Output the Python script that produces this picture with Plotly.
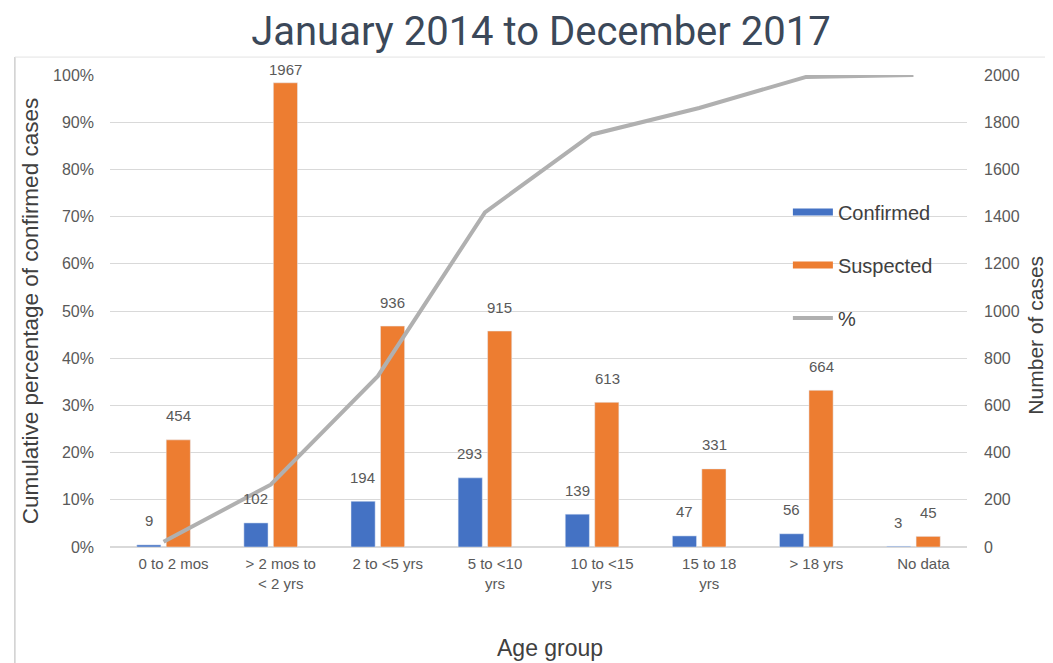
import plotly.graph_objects as go

categories = ["0 to 2 mos", "> 2 mos to<br>< 2 yrs", "2 to <5 yrs", "5 to <10<br>yrs",
              "10 to <15<br>yrs", "15 to 18<br>yrs", "> 18 yrs", "No data"]
confirmed = [9, 102, 194, 293, 139, 47, 56, 3]
suspected = [454, 1967, 936, 915, 613, 331, 664, 45]
cumulative_pct = [0.011, 0.132, 0.362, 0.709, 0.874, 0.930, 0.996, 1.0]

BLUE = "#4472C4"
ORANGE = "#ED7D31"
GRAY = "#B0B0B0"
TXT = "#595959"
FONT = "Liberation Sans, Arial, sans-serif"

fig = go.Figure()
fig.add_trace(go.Bar(x=categories, y=confirmed, name="Confirmed", marker_color=BLUE,
                     yaxis="y", showlegend=False))
fig.add_trace(go.Bar(x=categories, y=suspected, name="Suspected", marker_color=ORANGE,
                     yaxis="y", showlegend=False))
fig.add_trace(go.Scatter(
    x=categories, y=cumulative_pct, name="%", mode="lines",
    line=dict(color=GRAY, width=4), yaxis="y2", legendgroup="c", legendrank=3))
# legend entries drawn as wide rectangles like the original
fig.add_trace(go.Scatter(x=[None], y=[None], name="Confirmed", mode="lines",
                         line=dict(color=BLUE, width=7), yaxis="y2",
                         legendgroup="a", legendrank=1))
fig.add_trace(go.Scatter(x=[None], y=[None], name="Suspected", mode="lines",
                         line=dict(color=ORANGE, width=7), yaxis="y2",
                         legendgroup="b", legendrank=2))

# data labels above each bar (bars sit ~15 px left/right of the category centre)
for values, dx in ((confirmed, -15), (suspected, 15)):
    for cat, v in zip(categories, values):
        fig.add_annotation(x=cat, y=v, xref="x", yref="y", text=str(v), showarrow=False,
                           xshift=dx, yshift=13 if v > 1900 else 24,
                           yanchor="middle", xanchor="center",
                           font=dict(size=15, color=TXT, family=FONT))

fig.update_layout(
    width=1045, height=655,
    paper_bgcolor="white", plot_bgcolor="white",
    margin=dict(l=102, r=86, t=67, b=116),
    barmode="group", bargap=0.45, bargroupgap=0.18,
    title=dict(text="January 2014 to December 2017", x=0.51, xanchor="center",
               y=0.9649, yanchor="middle",
               font=dict(family="Roboto, sans-serif", size=40, color="#3b4859")),
    font=dict(family=FONT, color=TXT),
    xaxis=dict(showgrid=False, showline=False, ticks="",
               tickfont=dict(size=15, color=TXT), ticklabelstandoff=6, ticklabelshift=10),
    yaxis=dict(side="right", range=[0, 2000], dtick=200, showgrid=True,
               gridcolor="#d9d9d9", gridwidth=1, zeroline=True, zerolinecolor="#d9d9d9",
               tickfont=dict(size=16, color=TXT), ticklabelstandoff=16),
    yaxis2=dict(side="left", overlaying="y", range=[0, 1], dtick=0.1, tickformat=".0%",
                showgrid=False, zeroline=False,
                tickfont=dict(size=16, color=TXT), ticklabelstandoff=15),
    legend=dict(x=0.791, y=0.751, xanchor="left", yanchor="top",
                traceorder="grouped", tracegroupgap=24, itemwidth=40,
                font=dict(size=20, color="#404040"), bgcolor="rgba(0,0,0,0)"),
    showlegend=True,
)

fig.add_annotation(text="Cumulative percentage of confirmed cases", xref="paper", yref="paper",
                   x=-0.093, y=0.5, textangle=-90, showarrow=False,
                   xanchor="center", yanchor="middle",
                   font=dict(size=22.5, color="#404040"))
fig.add_annotation(text="Number of cases", xref="paper", yref="paper",
                   x=1.080, y=0.449, textangle=-90, showarrow=False,
                   xanchor="center", yanchor="middle",
                   font=dict(size=21, color="#404040"))
fig.add_annotation(text="Age group", xref="paper", yref="paper",
                   x=0.513, y=-0.214, showarrow=False,
                   xanchor="center", yanchor="middle",
                   font=dict(size=23, color="#404040"))

# image frame
fig.add_shape(type="line", xref="paper", yref="paper", x0=-0.111, x1=-0.111, y0=1.038, y1=-0.25,
              line=dict(color="#cfcfcf", width=1.5))
fig.add_shape(type="line", xref="paper", yref="paper", x0=-0.111, x1=1.11, y0=1.038, y1=1.038,
              line=dict(color="#e3e3e3", width=1))

fig.write_html("out.html")
